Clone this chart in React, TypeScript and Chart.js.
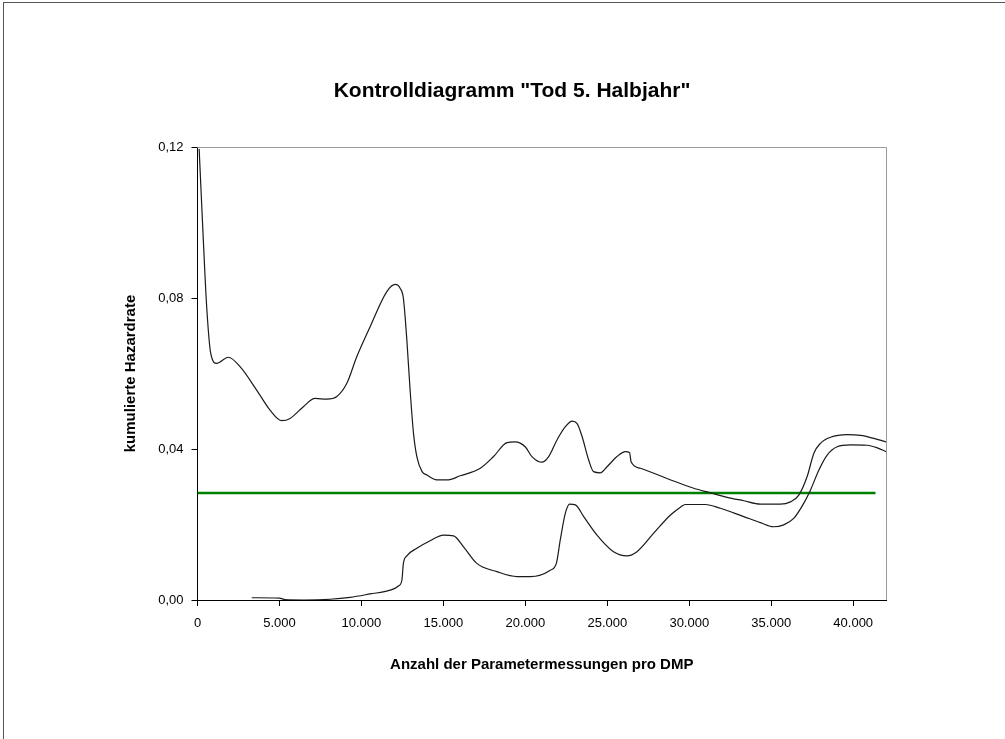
import React, { useEffect, useRef } from "react";
import { Chart, registerables } from "chart.js";

Chart.register(...registerables);

const TITLE = 'Kontrolldiagramm "Tod 5. Halbjahr"';
const X_TITLE = "Anzahl der Parametermessungen pro DMP";
const Y_TITLE = "kumulierte Hazardrate";

const upperX = [100, 355, 560, 805, 1170, 1880, 2595, 3610, 4425, 5140, 5650, 6460, 7170, 7890, 8500, 9110, 9720, 10530, 11550, 12060, 12360, 12560, 12770, 12970, 13180, 13380, 13700, 13990, 14600, 15210, 16030, 17250, 18060, 18880, 19380, 19990, 20400, 21010, 21420, 21930, 22440, 22850, 23150, 23460, 23860, 24160, 24570, 24980, 25590, 26100, 26360, 26450, 27010, 28640, 30270, 31290, 32310, 33320, 34340, 35560, 36170, 36680, 37190, 37600, 38000, 38610, 39630, 40450, 41260, 42000];
const upperY = [0.1195, 0.0954, 0.0777, 0.0654, 0.0627, 0.0643, 0.0618, 0.0556, 0.0503, 0.0475, 0.0481, 0.0512, 0.0534, 0.0532, 0.0539, 0.0574, 0.0645, 0.0724, 0.0817, 0.0836, 0.0826, 0.0799, 0.0689, 0.0556, 0.044, 0.038, 0.034, 0.0331, 0.0318, 0.0318, 0.0329, 0.0349, 0.038, 0.0417, 0.0419, 0.0406, 0.038, 0.0365, 0.038, 0.0424, 0.0459, 0.0474, 0.0468, 0.0433, 0.0371, 0.034, 0.0337, 0.0353, 0.038, 0.0393, 0.039, 0.0366, 0.0349, 0.0322, 0.0296, 0.0284, 0.0272, 0.0263, 0.0254, 0.0254, 0.026, 0.0278, 0.0327, 0.0389, 0.0415, 0.0431, 0.0438, 0.0436, 0.0428, 0.0419];

const lowerX = [3310, 5000, 5340, 6500, 8090, 9310, 10530, 11750, 12260, 12470, 12560, 12770, 13380, 14190, 15000, 15620, 16230, 17040, 18270, 19490, 20300, 21520, 21890, 22130, 22440, 22700, 23050, 23560, 24370, 25380, 26200, 26810, 27830, 28850, 29460, 29760, 30980, 31900, 33320, 34340, 35150, 35760, 36370, 36980, 37390, 37900, 38410, 39020, 39830, 40850, 41470, 42000];
const lowerY = [0.0006, 0.0005, 0.0001, 0.0, 0.0002, 0.0007, 0.0016, 0.0026, 0.0037, 0.0053, 0.0097, 0.0117, 0.0137, 0.0157, 0.0172, 0.017, 0.0141, 0.0097, 0.0075, 0.0062, 0.0062, 0.0079, 0.0097, 0.0159, 0.023, 0.0254, 0.0252, 0.0221, 0.0172, 0.0128, 0.0117, 0.0128, 0.0177, 0.0225, 0.0246, 0.0253, 0.0253, 0.0243, 0.0221, 0.0205, 0.0194, 0.0199, 0.0216, 0.0256, 0.0291, 0.0344, 0.0384, 0.0406, 0.0411, 0.041, 0.0403, 0.0393];

const targetX = [0, 41360];
const targetY = [0.02834, 0.02834];

const X_MIN = 0;
const X_MAX = 42000;
const X_TICKS = [0, 5000, 10000, 15000, 20000, 25000, 30000, 35000, 40000];
const Y_MIN = 0;
const Y_MAX = 0.12;
const Y_TICKS = [0, 0.04, 0.08, 0.12];

const toPoints = (xs: number[], ys: number[]) => xs.map((x, i) => ({ x, y: ys[i] }));

const fmtThousands = (v: number) => String(Math.round(v)).replace(/\B(?=(\d{3})+(?!\d))/g, ".");

const FONT = "'Liberation Sans', Arial, sans-serif";

const plotFrame = {
  id: "plotFrame",
  beforeDatasetsDraw(chart: any) {
    const { ctx, chartArea } = chart;
    ctx.save();
    ctx.strokeStyle = "#9a9a9a";
    ctx.lineWidth = 1;
    ctx.beginPath();
    ctx.moveTo(chartArea.left, chartArea.top + 0.5);
    ctx.lineTo(chartArea.right + 0.5, chartArea.top + 0.5);
    ctx.lineTo(chartArea.right + 0.5, chartArea.bottom);
    ctx.stroke();
    ctx.restore();
  },
};

const chartTitle = {
  id: "chartTitle",
  afterDraw(chart: any) {
    const { ctx } = chart;
    ctx.save();
    ctx.fillStyle = "#000";
    ctx.font = `bold 21px ${FONT}`;
    ctx.textAlign = "center";
    ctx.textBaseline = "middle";
    ctx.fillText(TITLE, 512, 91);
    ctx.restore();
  },
};

export default function App() {
  const ref = useRef<HTMLCanvasElement | null>(null);

  useEffect(() => {
    if (!ref.current) return;
    const chart = new Chart(ref.current, {
      type: "line",
      data: {
        datasets: [
          {
            label: "obere Grenze",
            data: toPoints(upperX, upperY),
            borderColor: "#1a1a1a",
            borderWidth: 1.2,
            pointRadius: 0,
            cubicInterpolationMode: "monotone",
            fill: false,
          },
          {
            label: "untere Grenze",
            data: toPoints(lowerX, lowerY),
            borderColor: "#1a1a1a",
            borderWidth: 1.2,
            pointRadius: 0,
            cubicInterpolationMode: "monotone",
            fill: false,
          },
          {
            label: "Sollwert",
            data: toPoints(targetX, targetY),
            borderColor: "#008000",
            borderWidth: 2.5,
            pointRadius: 0,
            fill: false,
          },
        ],
      },
      options: {
        responsive: false,
        animation: false,
        layout: { padding: { left: 110, right: 119, top: 147, bottom: 49 } },
        plugins: {
          legend: { display: false },
          tooltip: { enabled: false },
          title: { display: false },
        },
        scales: {
          x: {
            type: "linear",
            min: X_MIN,
            max: X_MAX,
            afterFit: (s: any) => {
              s.height = 90;
            },
            afterBuildTicks: (s: any) => {
              s.ticks = X_TICKS.map((value) => ({ value }));
            },
            ticks: {
              autoSkip: false,
              color: "#000",
              font: { family: FONT, size: 13 },
              padding: 10,
              maxRotation: 0,
              callback: (v: any) => fmtThousands(Number(v)),
            },
            grid: { drawOnChartArea: false, drawTicks: true, tickLength: 6, tickColor: "#000" },
            border: { color: "#000", width: 1 },
            title: {
              display: true,
              text: X_TITLE,
              color: "#000",
              font: { family: FONT, size: 15, weight: "bold" },
              padding: { top: 0, bottom: 16 },
            },
          },
          y: {
            type: "linear",
            min: Y_MIN,
            max: Y_MAX,
            afterFit: (s: any) => {
              s.width = 87.5;
            },
            afterBuildTicks: (s: any) => {
              s.ticks = Y_TICKS.map((value) => ({ value }));
            },
            ticks: {
              autoSkip: false,
              color: "#000",
              font: { family: FONT, size: 13 },
              padding: 8,
              callback: (v: any) => Number(v).toFixed(2).replace(".", ","),
            },
            grid: { drawOnChartArea: false, drawTicks: true, tickLength: 6, tickColor: "#000" },
            border: { color: "#000", width: 1 },
            title: {
              display: true,
              text: Y_TITLE,
              color: "#000",
              font: { family: FONT, size: 15, weight: "bold" },
              padding: { top: 12, bottom: 0 },
            },
          },
        },
      },
      plugins: [plotFrame, chartTitle],
    });
    return () => chart.destroy();
  }, []);

  return (
    <div style={{ position: "absolute", left: 0, top: 0, width: 1005, height: 739, background: "#fff" }}>
      <div
        style={{
          position: "absolute",
          left: 3,
          top: 2,
          right: -10,
          bottom: -10,
          borderLeft: "1px solid #555",
          borderTop: "1px solid #555",
        }}
      />
      <canvas ref={ref} width={1005} height={739} style={{ position: "absolute", left: 0, top: 0 }} />
    </div>
  );
}
